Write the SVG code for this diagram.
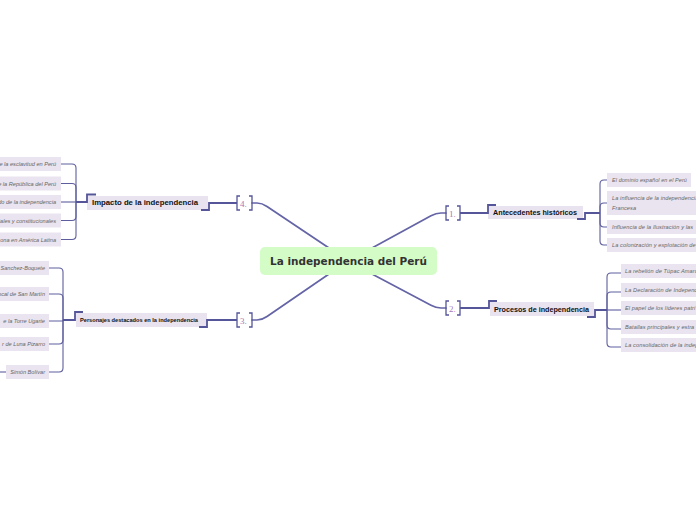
<svg xmlns="http://www.w3.org/2000/svg" width="696" height="520" viewBox="0 0 696 520">
<style>
.bg{fill:#ffffff}
.ln{fill:none;stroke:#5e5e9e;stroke-width:1.1}
.main{fill:none;stroke:#6464a6;stroke-width:1.7;stroke-linecap:round}
.deco{fill:none;stroke:#55559a;stroke-width:1.8}
.br{fill:none;stroke:#55559a;stroke-width:1.3}
.num{font-family:"Liberation Serif",serif;font-size:9px;fill:#a877b8}
.topic{fill:#e8e3ef}
.tt{font-family:"Liberation Sans",Arial,sans-serif;font-weight:bold;font-size:7.5px;fill:#111;text-anchor:middle}
.item{fill:#e9e4ef}
.it{font-family:"Liberation Sans",Arial,sans-serif;font-style:italic;font-size:5.6px;letter-spacing:0.1px;fill:#666}
.itr{font-family:"Liberation Sans",Arial,sans-serif;font-style:italic;font-size:5.6px;fill:#666;text-anchor:end}
</style>
<rect class="bg" x="0" y="0" width="696" height="520"/>
<g id="connectors">
  <path class="main" d="M252 203 H257 Q262 203 267 206.5 L329 248"/>
  <path class="main" d="M446 213 H441 Q436 213 431 215.8 L372 248"/>
  <path class="main" d="M446 308 H441 Q436 308 431 305.3 L372 274"/>
  <path class="main" d="M252 320 H257 Q262 320 267 316.5 L329 274"/>
  <path class="ln" d="M76 202 V168 Q76 164 72 164 H61"/>
  <path class="ln" d="M76 202 V187.5 Q76 183.5 72 183.5 H61"/>
  <path class="ln" d="M76 202 H61"/>
  <path class="ln" d="M76 202 V216.5 Q76 220.5 72 220.5 H61"/>
  <path class="ln" d="M76 202 V235.5 Q76 239.5 72 239.5 H61"/>
  <path class="ln" d="M63 320 V272 Q63 268 59 268 H49"/>
  <path class="ln" d="M63 320 V298 Q63 294 59 294 H49"/>
  <path class="ln" d="M63 320 V321 H49"/>
  <path class="ln" d="M63 320 V340 Q63 344 59 344 H49"/>
  <path class="ln" d="M63 320 V368 Q63 372 59 372 H49"/>
  <path class="ln" d="M0 372 H6"/>
  <path class="ln" d="M600 213 V184 Q600 180 604 180 H607"/>
  <path class="ln" d="M600 213 V207 Q600 203 604 203 H607"/>
  <path class="ln" d="M600 213 V223 Q600 227 604 227 H607"/>
  <path class="ln" d="M600 213 V241 Q600 245 604 245 H607"/>
  <path class="ln" d="M607 310 V277 Q607 273 611 273 H621"/>
  <path class="ln" d="M607 310 V296 Q607 292 611 292 H621"/>
  <path class="ln" d="M607 310 H621"/>
  <path class="ln" d="M607 310 V325 Q607 329 611 329 H621"/>
  <path class="ln" d="M607 310 V343 Q607 347 611 347 H621"/>
</g>
<g id="brackets">
  <path class="br" d="M240 196 H237 V210 H240 M249 196 H252 V210 H249"/>
  <text class="num" x="240" y="206.5">4.</text>
  <path class="br" d="M449 206 H446 V220 H449 M457 206 H460 V220 H457"/>
  <text class="num" x="449" y="216.5">1.</text>
  <path class="br" d="M449 301 H446 V315 H449 M457 301 H460 V315 H457"/>
  <text class="num" x="449" y="311.5">2.</text>
  <path class="br" d="M240 313 H237 V327 H240 M249 313 H252 V327 H249"/>
  <text class="num" x="240" y="323.5">3.</text>
</g>
<g id="center">
  <rect x="260" y="247" width="177" height="28" rx="5" fill="#d3fcc7"/>
  <text x="348.5" y="265.3" text-anchor="middle" font-family="DejaVu Sans, sans-serif" font-weight="bold" font-size="10" fill="#333" textLength="157" lengthAdjust="spacingAndGlyphs">La independencia del Perú</text>
</g>
<g id="impacto">
  <rect class="topic" x="87" y="196" width="121" height="14"/>
  <path class="deco" d="M76 202 H87 V194.5 H96 M201 210 H209 V203 H237"/>
  <text class="tt" x="145" y="205" textLength="106" lengthAdjust="spacingAndGlyphs">Impacto de la independencia</text>
</g>
<g id="antecedentes">
  <rect class="topic" x="488" y="206" width="95" height="13"/>
  <path class="deco" d="M460 213 H488 V205 H496 M577 219 H585 V213 H600"/>
  <text class="tt" x="535" y="215" textLength="84" lengthAdjust="spacingAndGlyphs">Antecedentes históricos</text>
</g>
<g id="procesos">
  <rect class="topic" x="490" y="302" width="104" height="14"/>
  <path class="deco" d="M460 308 H489 V301 H497 M587 317 H595 V310 H607"/>
  <text class="tt" x="541.5" y="311.5" textLength="95" lengthAdjust="spacingAndGlyphs">Procesos de independencia</text>
</g>
<g id="personajes">
  <rect class="topic" x="76" y="313" width="131" height="14"/>
  <path class="deco" d="M63 320 H75 V312 H83 M199 327 H207 V320 H237"/>
  <text class="tt" x="139" y="322.3" textLength="118" lengthAdjust="spacingAndGlyphs" style="font-size:6px">Personajes destacados en la independencia</text>
</g>
<g id="impacto-items">
  <g id="i4-1"><rect class="item" x="-10" y="157" width="71" height="14"/><text class="itr" x="56" y="166">e la esclavitud en Perú</text></g>
  <g id="i4-2"><rect class="item" x="-10" y="176.5" width="71" height="14"/><text class="itr" x="56" y="185.5">e la República del Perú</text></g>
  <g id="i4-3"><rect class="item" x="-10" y="195" width="71" height="14"/><text class="itr" x="56" y="204">do de la independencia</text></g>
  <g id="i4-4"><rect class="item" x="-10" y="213.5" width="71" height="14"/><text class="itr" x="56" y="222.5">iales y constitucionales</text></g>
  <g id="i4-5"><rect class="item" x="-10" y="232.5" width="71" height="14"/><text class="itr" x="56" y="241.5">ona en América Latina</text></g>
</g>
<g id="personajes-items">
  <g id="i3-1"><rect class="item" x="-10" y="261" width="59" height="14"/><text class="itr" x="45" y="270">Sanchez-Boquete</text></g>
  <g id="i3-2"><rect class="item" x="-10" y="287" width="59" height="14"/><text class="itr" x="45" y="296">ocal de San Martín</text></g>
  <g id="i3-3"><rect class="item" x="-10" y="314" width="59" height="14"/><text class="itr" x="45" y="323">e la Torre Ugarte</text></g>
  <g id="i3-4"><rect class="item" x="-10" y="337" width="59" height="14"/><text class="itr" x="45" y="346">r de Luna Pizarro</text></g>
  <g id="i3-5"><rect class="item" x="6" y="365" width="43" height="14"/><text class="itr" x="45" y="374">Simón Bolívar</text></g>
</g>
<g id="antecedentes-items">
  <g id="i1-1"><rect class="item" x="607" y="173" width="84" height="14"/><text class="it" x="612" y="182" textLength="75" lengthAdjust="spacingAndGlyphs">El dominio español en el Perú</text></g>
  <g id="i1-2"><rect class="item" x="607" y="191" width="95" height="24"/><text class="it" x="612" y="200">La influencia de la independencia</text><text class="it" x="612" y="210">Francesa</text></g>
  <g id="i1-3"><rect class="item" x="607" y="220" width="95" height="14"/><text class="it" x="612" y="229">Influencia de la Ilustración y las</text></g>
  <g id="i1-4"><rect class="item" x="607" y="238" width="95" height="14"/><text class="it" x="612" y="247">La colonización y explotación de l</text></g>
</g>
<g id="procesos-items">
  <g id="i2-1"><rect class="item" x="621" y="264" width="80" height="14"/><text class="it" x="625" y="273">La rebelión de Túpac Amaru</text></g>
  <g id="i2-2"><rect class="item" x="621" y="283" width="80" height="14"/><text class="it" x="625" y="292">La Declaración de Independe</text></g>
  <g id="i2-3"><rect class="item" x="621" y="301" width="80" height="14"/><text class="it" x="625" y="310">El papel de los líderes patri</text></g>
  <g id="i2-4"><rect class="item" x="621" y="320" width="80" height="14"/><text class="it" x="625" y="329">Batallas principales y estra</text></g>
  <g id="i2-5"><rect class="item" x="621" y="338" width="80" height="14"/><text class="it" x="625" y="347">La consolidación de la indep</text></g>
</g>
</svg>
